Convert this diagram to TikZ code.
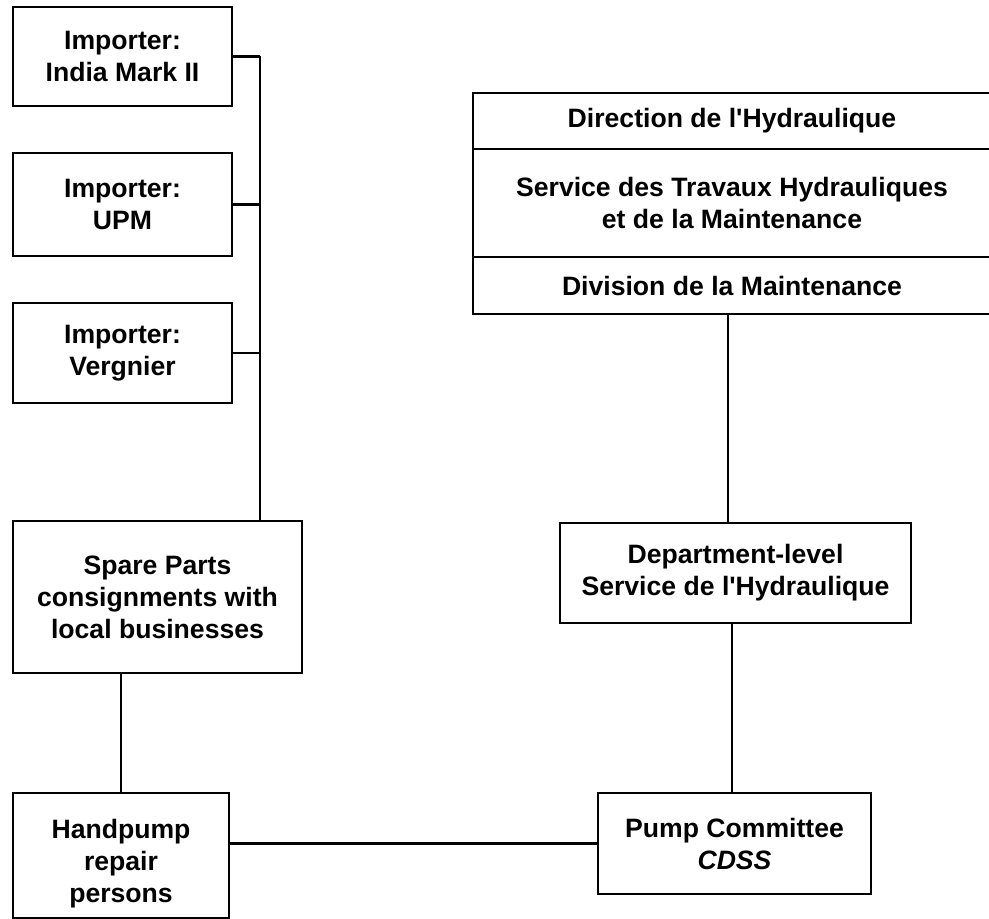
\documentclass[tikz,border=0pt]{standalone}
\usepackage{fontspec}
\setmainfont{Liberation Sans}[Ligatures=TeXOff]
\begin{document}
\begin{tikzpicture}[x=0.5pt,y=-0.5pt,
  box/.style={draw,line width=1.2pt,inner sep=0pt,align=center,
    font=\fontsize{13.3}{16}\selectfont\bfseries},
  link/.style={line width=1.2pt}]
\useasboundingbox (0,0) rectangle (989,919);
% left column
\node[box,minimum width=109.5pt,minimum height=49.5pt] (india) at (122.5,56.5) {Importer:\\India Mark II};
\node[box,minimum width=109.5pt,minimum height=51.5pt] (upm) at (122.5,204.5) {Importer:\\UPM};
\node[box,minimum width=109.5pt,minimum height=50pt] (verg) at (122.5,353) {Importer:\\Vergnier};
\node[box,minimum width=144.5pt,minimum height=76pt] (spare) at (157.5,597) {Spare Parts\\consignments with\\local businesses};
\node[box,minimum width=108pt,minimum height=62.5pt,text height=50pt,text depth=3pt] (hand) at (121,855.5) {Handpump\\repair\\persons};
% right column
\node[box,minimum width=259pt,minimum height=28pt] (dir) at (732,121) {Direction de l'Hydraulique};
\node[box,minimum width=259pt,minimum height=54pt] (stm) at (732,203) {Service des Travaux Hydrauliques\\et de la Maintenance};
\node[box,minimum width=259pt,minimum height=28.5pt] (div) at (732,285.5) {Division de la Maintenance};
\node[box,minimum width=175.5pt,minimum height=50pt] (dept) at (735.5,573) {Department-level\\Service de l'Hydraulique};
\node[box,minimum width=136.5pt,minimum height=50.5pt] (pump) at (734.5,843.5) {Pump Committee\\\itshape CDSS};
% connectors
\coordinate (bus) at (260,53);
\draw[link] (india.east) -- (india.east -| bus);
\draw[link] (upm.east) -- (upm.east -| bus);
\draw[link] (verg.east) -- (verg.east -| bus);
\draw[link] (india.east -| bus) -- (bus |- spare.north);
\draw[link] (hand.north |- spare.south) -- (hand.north);
\draw[link] (pump.west -| hand.east) -- (pump.west);
\draw[link] ([xshift=-1.25pt]pump.north) -- ([xshift=-1.25pt]pump.north |- dept.south);
\draw[link] ([xshift=-3.75pt]dept.north) -- ([xshift=-3.75pt]dept.north |- div.south);
\end{tikzpicture}
\end{document}
